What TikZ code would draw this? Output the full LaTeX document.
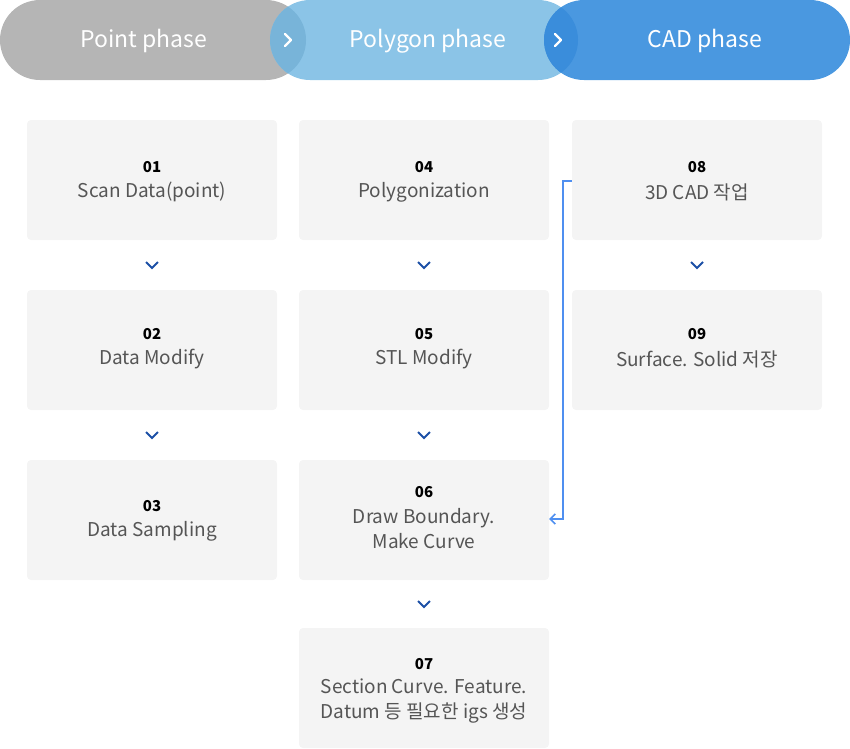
\documentclass[tikz,border=0pt]{standalone}
\usepackage{fontspec}
\setmainfont{Noto Sans CJK KR}
\usetikzlibrary{arrows.meta}
\definecolor{pgrey}{HTML}{B5B5B5}
\definecolor{plight}{HTML}{8BC4E7}
\definecolor{pblue}{HTML}{4A98E0}
\definecolor{lensA}{HTML}{78B4D9}
\definecolor{lensB}{HTML}{3A8DDB}
\definecolor{boxbg}{HTML}{F4F4F4}
\definecolor{txt}{HTML}{555555}
\definecolor{chev}{HTML}{1C4FA6}
\definecolor{conn}{HTML}{4F8FF0}
\tikzset{
  stepbox/.style={fill=boxbg, rounded corners=4pt, minimum width=250pt, minimum height=120pt, inner sep=0pt, draw=none},
  num/.style={font=\fontsize{15}{18}\selectfont\bfseries, text=black},
  lbl/.style={font=\fontsize{19}{25}\selectfont, text=txt, align=center},
  head/.style={font=\fontsize{23}{28}\selectfont, text=white},
  chevdown/.style={draw=chev, line width=2pt},
  chevright/.style={draw=white, line width=2.4pt, line cap=round, line join=round},
}
\begin{document}
\begin{tikzpicture}[x=1pt,y=-1pt]
\useasboundingbox (0,0) rectangle (850,748);
% pills
\fill[pgrey] (0,0) [rounded corners=40pt] rectangle (306,80);
\fill[plight] (270,0) [rounded corners=40pt] rectangle (578,80);
\fill[pblue] (544,0) [rounded corners=40pt] rectangle (850,80);
\begin{scope}
  \clip (0,0) [rounded corners=40pt] rectangle (306,80);
  \fill[lensA] (270,0) [rounded corners=40pt] rectangle (578,80);
\end{scope}
\begin{scope}
  \clip (270,0) [rounded corners=40pt] rectangle (578,80);
  \fill[lensB] (544,0) [rounded corners=40pt] rectangle (850,80);
\end{scope}
\node[head] (h1) at (144,41) {Point phase};
\node[head] (h2) at (428,41) {Polygon phase};
\node[head] (h3) at (705,41) {CAD phase};
\coordinate (c1) at (288,40);
\coordinate (c2) at (558,40);
\draw[chevright] ([shift={(-3,-6)}]c1) -- ([shift={(3,0)}]c1) -- ([shift={(-3,6)}]c1);
\draw[chevright] ([shift={(-3,-6)}]c2) -- ([shift={(3,0)}]c2) -- ([shift={(-3,6)}]c2);
% boxes
\node[stepbox] (b1) at (152,180) {};
\node[stepbox] (b2) at (152,350) {};
\node[stepbox] (b3) at (152,520) {};
\node[stepbox] (b4) at (424,180) {};
\node[stepbox] (b5) at (424,350) {};
\node[stepbox] (b6) at (424,520) {};
\node[stepbox] (b7) at (424,688) {};
\node[stepbox] (b8) at (697,180) {};
\node[stepbox] (b9) at (697,350) {};
% texts
\node[num] (n1) at (152,167) {01};
\node[lbl] (l1) at (152,192) {Scan Data(point)};
\node[num] (n2) at (152,334) {02};
\node[lbl] (l2) at (152,359) {Data Modify};
\node[num] (n3) at (152,506) {03};
\node[lbl] (l3) at (152,531) {Data Sampling};
\node[num] (n4) at (424,167) {04};
\node[lbl] (l4) at (424,192) {Polygonization};
\node[num] (n5) at (424,334) {05};
\node[lbl] (l5) at (424,359) {STL Modify};
\node[num] (n6) at (424,492) {06};
\node[lbl] (l6) at (424,529) {Draw Boundary.\\Make Curve};
\node[num] (n7) at (424,664) {07};
\node[lbl] (l7) at (424,701) {Section Curve. Feature.\\Datum 등 필요한 igs 생성};
\node[num] (n8) at (697,167) {08};
\node[lbl] (l8) at (697,192) {3D CAD 작업};
\node[num] (n9) at (697,334) {09};
\node[lbl] (l9) at (697,359) {Surface. Solid 저장};
% down chevrons
\foreach \x/\y in {152/265,152/435,424/265,424/435,424/604,697/265}{
  \draw[chevdown] (\x-6,\y-3) -- (\x,\y+3) -- (\x+6,\y-3);
}
% connector 08 -> 06
\coordinate (k1) at (563,181);
\coordinate (k2) at (563,519);
\draw[conn, line width=1.5pt, -{Straight Barb[length=5pt,width=10pt,line width=1.5pt]}]
  (b8.west |- k1) -- (k1) -- (k2) -- (b6.east |- k2);
\end{tikzpicture}
\end{document}
